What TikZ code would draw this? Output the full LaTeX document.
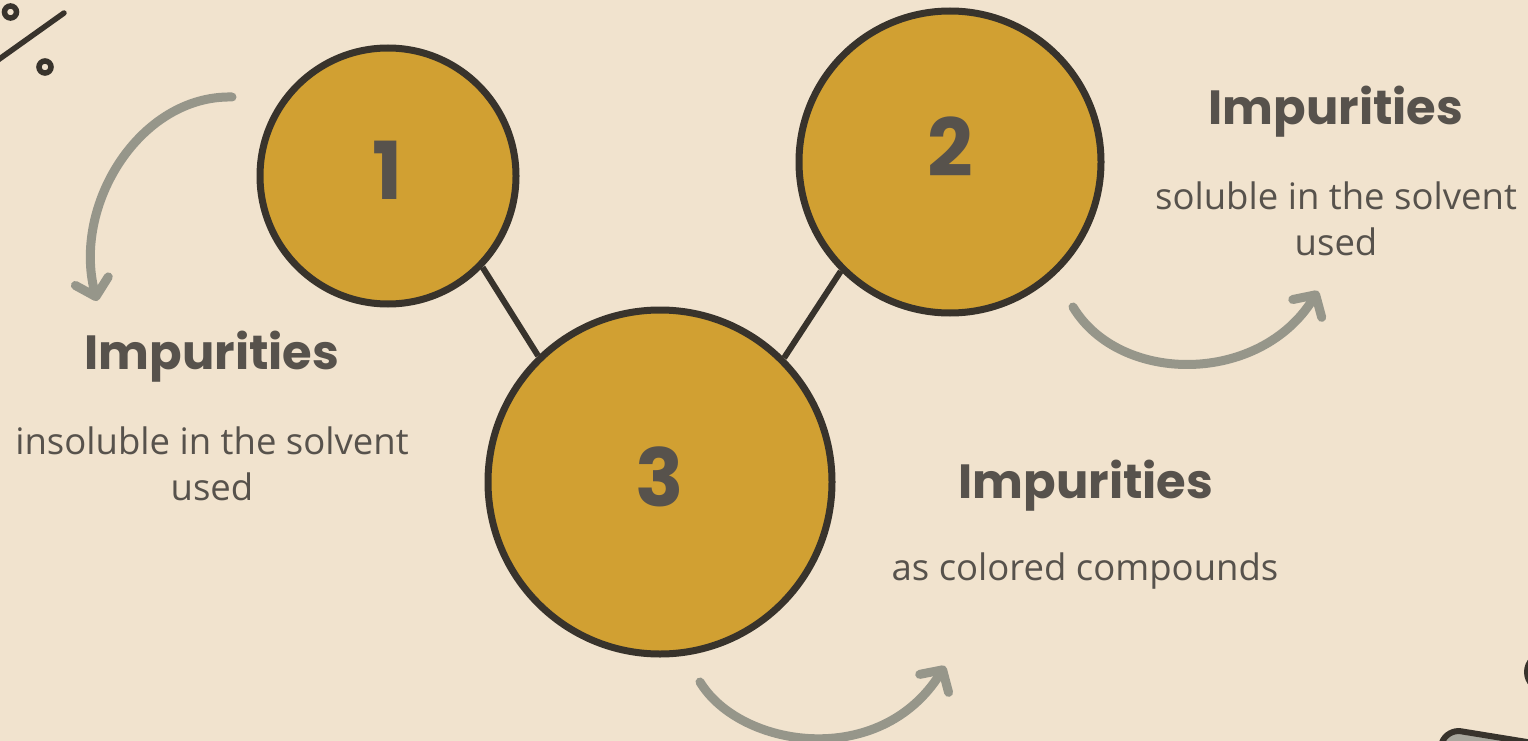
\documentclass[tikz,border=0pt]{standalone}
\usepackage{fontspec}
\setmainfont{Open Sans}
\newfontfamily\headfont{Poppins}[UprightFont=* Bold]
\usetikzlibrary{arrows.meta}
\definecolor{bg}{HTML}{F1E3CE}
\definecolor{gold}{HTML}{D1A032}
\definecolor{ink}{HTML}{38332C}
\definecolor{txt}{HTML}{57524C}
\definecolor{arr}{HTML}{96968A}
\definecolor{padgray}{HTML}{A8A79D}
\tikzset{
  bubble/.style={circle, draw=ink, line width=7pt, fill=gold, inner sep=0pt},
  link/.style={draw=ink, line width=6pt},
  num/.style={text=txt, font=\headfont\fontsize{80}{80}\selectfont},
  head/.style={text=txt, font=\headfont\fontsize{48}{52}\selectfont},
  body/.style={text=txt, align=center, font=\fontsize{36.5}{46}\selectfont},
  curvy/.style={draw=arr, line width=9pt, line cap=round, line join=round,
    -{Straight Barb[length=16pt,width=34pt,line cap=round,line join=round]}},
  deco/.style={draw=ink, line width=5.5pt, line cap=round}
}
\begin{document}
\begin{tikzpicture}[x=1pt,y=-1pt]
\fill[bg] (0,0) rectangle (1528,741);
\useasboundingbox (0,0) rectangle (1528,741);
\clip (0,0) rectangle (1528,741);
% decorations
\draw[deco] (10.5,12) circle[radius=6];
\draw[deco] (45,67) circle[radius=6];
\draw[deco] (-2,60) -- (64,13);
\draw[draw=ink, line width=6pt] (1545,672) circle[radius=18];
\draw[draw=ink, fill=padgray, line width=6pt, rounded corners=14pt] (1430,775) -- (1447,729) -- (1570,749) -- (1580,790) -- cycle;
% bubbles
\node[bubble, minimum size=256pt] (c1) at (388,176) {};
\node[bubble, minimum size=302pt] (c2) at (950,162) {};
\node[bubble, minimum size=344pt] (c3) at (660,482) {};
\draw[link] (c1.-44) -- (c3.134);
\draw[link] (c2.225) -- (c3.45);
\node[num] (n1) at (388,170) {1};
\node[num] (n2) at (950,147) {2};
\node[num] (n3) at (660,477) {3};
% texts
\node[head] (h1) at (212,357) {Impurities};
\node[body] (b1) at (212,464) {insoluble in the solvent\\used};
\node[head] (h2) at (1336,112) {Impurities};
\node[body] (b2) at (1336,219) {soluble in the solvent\\used};
\node[head] (h3) at (1086,486) {Impurities};
\node[body] (b3) at (1085,571) {as colored compounds};
% arrows
\coordinate (a1s) at (232,97);
\coordinate (a1e) at (97,301);
\coordinate (a2s) at (1073,307);
\coordinate (a2e) at (1318,291);
\coordinate (a3s) at (700,682);
\coordinate (a3e) at (945,666);
\draw[curvy] (a1s) .. controls (140,95) and (72,205) .. (a1e);
\draw[curvy] (a2s) .. controls (1120,385) and (1260,385) .. (a2e);
\draw[curvy] (a3s) .. controls (740,748) and (880,770) .. (a3e);
\end{tikzpicture}
\end{document}
